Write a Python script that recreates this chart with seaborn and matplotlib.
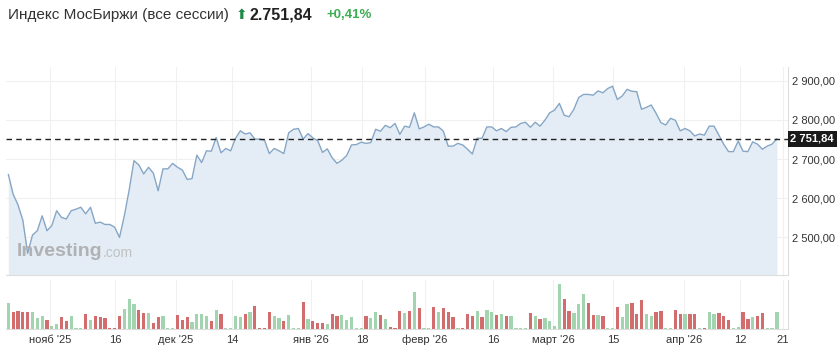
import matplotlib
matplotlib.use("Agg")
import matplotlib.pyplot as plt
from matplotlib.ticker import FuncFormatter, FixedLocator
import numpy as np
import pandas as pd
import seaborn as sns

# ---------------- data ----------------
price = [2661, 2610, 2583, 2544, 2459, 2506, 2517, 2555, 2517, 2530,
         2568, 2551, 2547, 2568, 2572, 2577, 2560, 2577, 2536, 2539,
         2533, 2533, 2526, 2500, 2555, 2621, 2696, 2685, 2662, 2679,
         2664, 2619, 2675, 2675, 2689, 2679, 2672, 2648, 2650, 2710,
         2691, 2721, 2720, 2755, 2716, 2727, 2721, 2753, 2772, 2764,
         2767, 2751, 2751, 2748, 2714, 2727, 2721, 2714, 2767, 2776,
         2778, 2751, 2765, 2754, 2747, 2717, 2726, 2703, 2689, 2697,
         2709, 2736, 2737, 2743, 2740, 2742, 2776, 2771, 2786, 2780,
         2791, 2763, 2784, 2781, 2818, 2777, 2782, 2789, 2782, 2782,
         2771, 2733, 2733, 2740, 2736, 2725, 2713, 2753, 2753, 2782,
         2782, 2772, 2778, 2770, 2781, 2782, 2791, 2794, 2781, 2794,
         2784, 2799, 2818, 2825, 2842, 2812, 2808, 2827, 2857, 2865,
         2865, 2863, 2874, 2869, 2880, 2886, 2852, 2861, 2878, 2873,
         2872, 2827, 2832, 2838, 2817, 2793, 2787, 2804, 2799, 2772,
         2778, 2772, 2759, 2764, 2761, 2784, 2784, 2761, 2738, 2719,
         2719, 2746, 2720, 2719, 2744, 2738, 2725, 2733, 2738, 2751.84]

volume = [79, 52, 54, 50, 52, 52, 34, 40, 28, 9,
          16, 35, 24, 38, 2, 2, 46, 28, 38, 36,
          33, 2, 2, 40, 59, 91, 75, 57, 47, 48,
          19, 36, 38, 2, 2, 43, 28, 35, 21, 45,
          45, 38, 24, 57, 46, 2, 2, 40, 36, 46,
          52, 70, 2, 2, 52, 39, 32, 24, 43, 2,
          2, 81, 31, 24, 19, 19, 15, 45, 38, 43,
          28, 35, 2, 2, 38, 32, 50, 43, 30, 7,
          2, 55, 47, 55, 110, 64, 3, 3, 67, 52,
          62, 50, 35, 4, 4, 46, 39, 55, 36, 57,
          50, 41, 46, 39, 39, 2, 2, 2, 48, 39,
          30, 34, 25, 10, 135, 89, 53, 47, 74, 105,
          79, 43, 43, 39, 2, 2, 67, 36, 74, 79,
          46, 87, 45, 40, 52, 55, 2, 2, 57, 44,
          45, 44, 46, 2, 4, 52, 45, 48, 39, 26,
          2, 7, 50, 31, 35, 40, 47, 2, 2, 50]

direction = list("GRRRRGGGRG"
                 "GRRGGGRGRR"
                 "RRRRGGGRRG"
                 "RRGGGRRRGG"
                 "GGRGRGGGGR"
                 "GRRRRGGRGG"
                 "GRGRRRGRRG"
                 "GGGGRGGRGR"
                 "RRGRGRGGRG"
                 "RRRGRRRGRG"
                 "GRGRGGGGRG"
                 "RGGGGRRGGG"
                 "RRGRGGRGGR"
                 "RRGGRRGGRR"
                 "GRRGRGGRRR"
                 "GGRRGRRGGG")

session = list(range(1, len(price) + 1))

tick_pos = [9.6, 23.07, 35.7, 47.3, 63.6, 74.2, 87.2, 101.3, 113.7, 126.1, 140.8, 152.4, 161.3]
tick_labels = ["нояб '25", "16", "дек '25", "14", "янв '26", "18", "февр '26",
               "16", "март '26", "15", "апр '26", "12", "21"]
y_ticks = [2500, 2600, 2700, 2800, 2900]
last_price = 2751.84

title_name = "Индекс МосБиржи (все сессии)"
title_price = "2.751,84"
title_change = "+0,41%"

df = pd.DataFrame({"session": session, "price": price,
                   "volume": volume, "dir": direction})

# ---------------- figure ----------------
sns.set_theme(style="white")
plt.rcParams["font.family"] = ["Liberation Sans", "DejaVu Sans"]

W, H = 838, 348
fig = plt.figure(figsize=(W / 100, H / 100), dpi=100)

def ax_rect(x0, y0, x1, y1):
    return [x0 / W, 1 - y1 / H, (x1 - x0) / W, (y1 - y0) / H]

ax = fig.add_axes(ax_rect(6, 67, 788, 275))
axv = fig.add_axes(ax_rect(6, 280, 788, 329), sharex=ax)

grid_c = "#f0f0f0"
border_c = "#dddddd"
line_c = "#86a6c6"
fill_c = "#e4edf6"

# price
sns.lineplot(data=df, x="session", y="price", ax=ax, color=line_c, linewidth=1.0, zorder=3)
ax.fill_between(df["session"], df["price"], 2300, color=fill_c, zorder=2, linewidth=0)
ax.set_ylim(2404, 2935)
ax.set_xlim(0.52, 162.3)
ax.axhline(last_price, color="#222222", linestyle=(0, (4, 3)), linewidth=1.0, zorder=4)

ax.yaxis.set_major_locator(FixedLocator(y_ticks))
ax.yaxis.tick_right()
ax.yaxis.set_major_formatter(FuncFormatter(
    lambda v, p: f"{v:,.2f}".replace(",", " ").replace(".", ",")))
ax.tick_params(axis="y", length=0, pad=3, labelsize=8, labelcolor="#333333")
ax.xaxis.set_major_locator(FixedLocator(tick_pos))
ax.tick_params(axis="x", length=0, labelbottom=False)
ax.grid(True, color=grid_c, linewidth=0.8, zorder=0)
ax.set_xlabel("")
ax.set_ylabel("")
for s in ["left", "top"]:
    ax.spines[s].set_visible(False)
ax.spines["right"].set_color(border_c)
ax.spines["bottom"].set_color(border_c)
ax.spines["right"].set_linewidth(0.8)
ax.spines["bottom"].set_linewidth(0.8)

ax.text(1.003, last_price, "2 751,84", transform=ax.get_yaxis_transform(),
        ha="left", va="center", color="white", fontsize=8, fontweight="bold",
        bbox=dict(boxstyle="square,pad=0.25", facecolor="#1a1a1a", edgecolor="none"),
        zorder=10, clip_on=False)

# watermark
ax.text(0.014, 0.115, "Investing", transform=ax.transAxes, fontsize=14,
        fontweight="bold", color="#ababab", alpha=0.9, ha="left", va="center", zorder=5)
ax.text(0.124, 0.108, ".com", transform=ax.transAxes, fontsize=10,
        color="#bdbdbd", alpha=0.9, ha="left", va="center", zorder=5)

# volume
sns.barplot(data=df, x="session", y="volume", hue="dir", ax=axv,
            palette={"G": "#a3d4b0", "R": "#d36d6d"}, native_scale=True,
            dodge=False, width=0.68, legend=False, saturation=1, zorder=3)
bar_w = 0.68
for p in axv.patches:
    cx = p.get_x() + p.get_width() / 2
    p.set_x(cx - bar_w / 2)
    p.set_width(bar_w)
    p.set_linewidth(0)
axv.set_ylim(0, 147)
axv.set_xlim(0.52, 162.3)
axv.set_yticks([])
axv.xaxis.set_major_locator(FixedLocator(tick_pos))
axv.set_xticklabels(tick_labels)
axv.tick_params(axis="x", length=0, pad=4, labelsize=8, labelcolor="#333333")
axv.grid(True, axis="x", color=grid_c, linewidth=0.8, zorder=0)
axv.set_xlabel("")
axv.set_ylabel("")
for s in ["left", "top"]:
    axv.spines[s].set_visible(False)
axv.spines["right"].set_color(border_c)
axv.spines["bottom"].set_color(border_c)
axv.spines["right"].set_linewidth(0.8)
axv.spines["bottom"].set_linewidth(0.8)

# header
fig.text(8 / W, 1 - 15 / H, title_name, fontsize=11.0, color="#333333", ha="left", va="center")
fig.text(236 / W, 1 - 15 / H, "⬆", fontsize=10, color="#1e8a45", ha="left", va="center",
         family=["DejaVu Sans"])
fig.text(250 / W, 1 - 15 / H, title_price, fontsize=11.5, fontweight="bold",
         color="#222222", ha="left", va="center")
fig.text(326 / W, 1 - 15 / H, title_change, fontsize=9.5, fontweight="bold",
         color="#3cae52", ha="left", va="center")

fig.savefig("out.png", dpi=100)
